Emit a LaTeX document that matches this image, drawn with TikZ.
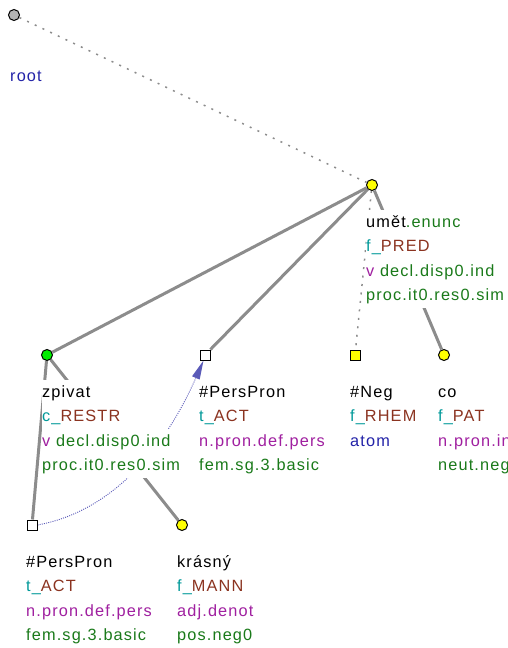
\documentclass[tikz,border=0pt]{standalone}
\usepackage{fontspec}
\setmainfont{Liberation Sans}[LetterSpace=7]
\usepackage{xcolor}
\usetikzlibrary{arrows.meta,backgrounds}
\definecolor{cedge}{HTML}{8C8C8C}
\definecolor{ccoref}{HTML}{5A5AB8}
\definecolor{cpref}{HTML}{009999}
\definecolor{cfun}{HTML}{8B3320}
\definecolor{cpos}{HTML}{A020A0}
\definecolor{cgram}{HTML}{1A7A1A}
\definecolor{cblue}{HTML}{2323A8}
\definecolor{cyel}{HTML}{FFFF00}
\definecolor{cgrn}{HTML}{00EE00}
\definecolor{cgry}{HTML}{B4B4B4}
\setlength{\fboxsep}{0pt}
% one label line on a white strip
\newcommand{\bx}[1]{\colorbox{white}{\strut #1}}
\newcommand{\fnc}[2]{\textcolor{cpref}{#1\_}\textcolor{cfun}{#2}}
\tikzset{
  tnode/.style={circle, draw=black, line width=1pt, minimum size=11pt, inner sep=0pt},
  tsq/.style={rectangle, draw=black, line width=1pt, minimum size=10pt, inner sep=0pt, fill=white},
  lbl/.style={anchor=north west, align=left, inner sep=0pt,
    font=\fontsize{16.3}{24.5}\selectfont},
  edge/.style={draw=cedge, line width=3pt},
  dedge/.style={draw=cedge, line width=1.5pt, dash pattern=on 2pt off 6.5pt},
  coref/.style={draw=ccoref, line width=0.9pt, dash pattern=on 1pt off 1.2pt,
    -{Triangle[length=19pt,width=8pt]}},
}
\begin{document}
\begin{tikzpicture}[x=1pt, y=-1pt]
  \clip (0,0) rectangle (508,648);
  % tree nodes
  \node[tnode, fill=cgry] (root) at (14,15) {};
  \node[tnode, fill=cyel] (umet) at (372,185) {};
  \node[tnode, fill=cgrn] (zpivat) at (47,355) {};
  \node[tsq] (pp1) at (205,355) {};
  \node[tsq, fill=cyel] (neg) at (355,355) {};
  \node[tnode, fill=cyel] (co) at (444,355) {};
  \node[tsq] (pp2) at (32,525) {};
  \node[tnode, fill=cyel] (krasny) at (182,525) {};

  % edges
  \begin{scope}[on background layer]
    \draw[dedge] (root) -- (umet);
    \draw[edge] (umet) -- (zpivat);
    \draw[edge] (umet) -- (pp1);
    \draw[dedge] (umet) -- (neg);
    \draw[edge] (umet) -- (co);
    \draw[edge] (zpivat) -- (pp2);
    \draw[edge] (zpivat) -- (krasny);
    \draw[coref] (pp2.east) .. controls +(93,-17) and +(-25,57) .. ([xshift=-1.5pt]pp1.south);
  \end{scope}

  % labels
  \node[lbl, anchor=base west] (lroot) at (10,81.5) {\textcolor{cblue}{root}};
  \node[lbl] (lumet) at (366,209.85) {\bx{um\v{e}t\textcolor{cgram}{.enunc}}\\
    \bx{\fnc{f}{PRED}}\\
    \bx{\textcolor{cpos}{v} \textcolor{cgram}{decl.disp0.ind}}\\
    \bx{\textcolor{cgram}{proc.it0.res0.sim}}};
  \node[lbl] (lzpivat) at (42,379.85) {\bx{zpivat}\\
    \bx{\fnc{c}{RESTR}}\\
    \bx{\textcolor{cpos}{v} \textcolor{cgram}{decl.disp0.ind}}\\
    \bx{\textcolor{cgram}{proc.it0.res0.sim}}};
  \node[lbl] (lpp1) at (199,379.85) {\bx{\#PersPron}\\
    \bx{\fnc{t}{ACT}}\\
    \bx{\textcolor{cpos}{n.pron.def.pers}}\\
    \bx{\textcolor{cgram}{fem.sg.3.basic}}};
  \node[lbl] (lneg) at (350,379.85) {\bx{\#Neg}\\
    \bx{\fnc{f}{RHEM}}\\
    \bx{\textcolor{cblue}{atom}}};
  \node[lbl] (lco) at (438,379.85) {\bx{co}\\
    \bx{\fnc{f}{PAT}}\\
    \bx{\textcolor{cpos}{n.pron.in}}\\
    \bx{\textcolor{cgram}{neut.neg}}};
  \node[lbl] (lpp2) at (26,549.85) {\bx{\#PersPron}\\
    \bx{\fnc{t}{ACT}}\\
    \bx{\textcolor{cpos}{n.pron.def.pers}}\\
    \bx{\textcolor{cgram}{fem.sg.3.basic}}};
  \node[lbl] (lkrasny) at (177,549.85) {\bx{kr\'asn\'y}\\
    \bx{\fnc{f}{MANN}}\\
    \bx{\textcolor{cpos}{adj.denot}}\\
    \bx{\textcolor{cgram}{pos.neg0}}};
\end{tikzpicture}
\end{document}
